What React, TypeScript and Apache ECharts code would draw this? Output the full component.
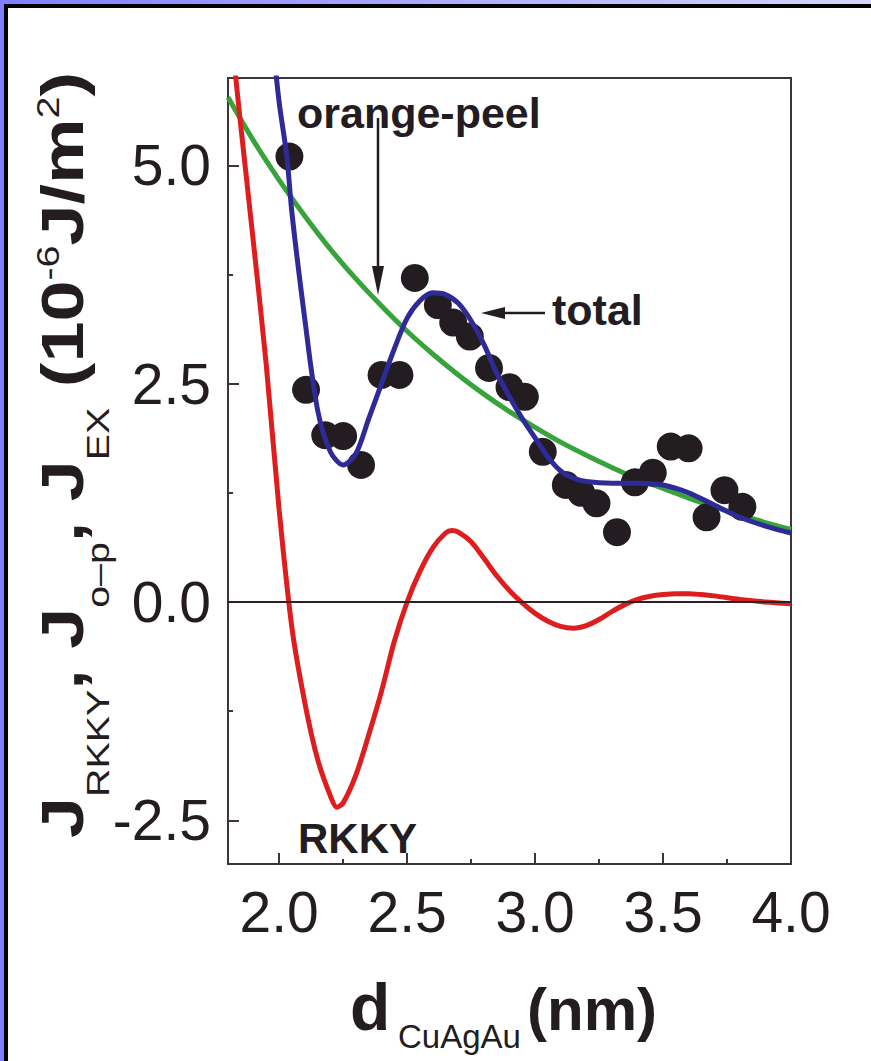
import React, { useEffect, useRef } from "react";
import * as echarts from "echarts";

// ---------- data ----------
const xMajorTicks = [2.0, 2.5, 3.0, 3.5, 4.0];
const xMinorTicks = [2.25, 2.75, 3.25, 3.75];
const yMajorTicks = [-2.5, 0.0, 2.5, 5.0];
const yMinorTicks = [-1.25, 1.25, 3.75];

// measured exchange coupling (black dots)
const dotX = [2.04, 2.105, 2.18, 2.25, 2.32, 2.4, 2.47, 2.53, 2.62, 2.68, 2.745, 2.82, 2.9, 2.96, 3.03, 3.12, 3.18, 3.24, 3.32, 3.39, 3.46, 3.53, 3.6, 3.67, 3.74, 3.81];
const dotY = [5.1, 2.43, 1.91, 1.9, 1.57, 2.6, 2.6, 3.71, 3.4, 3.2, 3.04, 2.68, 2.46, 2.35, 1.72, 1.34, 1.25, 1.13, 0.8, 1.37, 1.48, 1.78, 1.76, 0.97, 1.28, 1.09];

// orange-peel coupling (green)
const orangePeelX = [1.8, 1.9, 2.0, 2.1, 2.2, 2.3, 2.4, 2.5, 2.6, 2.7, 2.8, 2.9, 3.0, 3.1, 3.2, 3.3, 3.4, 3.5, 3.6, 3.7, 3.8, 3.9, 4.0];
const orangePeelY = [5.78, 5.28, 4.83, 4.42, 4.04, 3.7, 3.39, 3.1, 2.84, 2.6, 2.38, 2.18, 2.0, 1.83, 1.68, 1.54, 1.41, 1.3, 1.19, 1.09, 1.0, 0.91, 0.83];

// total coupling (blue)
const totalX = [1.97, 2.0, 2.03, 2.05, 2.1, 2.15, 2.2, 2.25, 2.3, 2.35, 2.4, 2.45, 2.5, 2.55, 2.6, 2.65, 2.7, 2.75, 2.8, 2.85, 2.9, 2.95, 3.0, 3.05, 3.1, 3.15, 3.2, 3.3, 3.4, 3.5, 3.6, 3.7, 3.8, 3.9, 4.0];
const totalY = [6.55, 5.72, 5.1, 4.45, 3.24, 2.2, 1.72, 1.57, 1.7, 2.1, 2.5, 2.9, 3.25, 3.45, 3.54, 3.52, 3.42, 3.22, 2.95, 2.62, 2.35, 2.1, 1.88, 1.66, 1.5, 1.42, 1.38, 1.36, 1.36, 1.34, 1.25, 1.11, 0.97, 0.87, 0.79];

// RKKY coupling (red)
const rkkyX = [1.82, 1.85, 1.9, 1.95, 2.0, 2.05, 2.1, 2.15, 2.2, 2.225, 2.25, 2.3, 2.35, 2.4, 2.45, 2.5, 2.55, 2.6, 2.65, 2.675, 2.7, 2.75, 2.8, 2.85, 2.9, 2.95, 3.0, 3.05, 3.1, 3.15, 3.2, 3.25, 3.3, 3.35, 3.4, 3.45, 3.5, 3.55, 3.6, 3.65, 3.7, 3.8, 3.9, 4.0];
const rkkyY = [6.3, 5.45, 4.1, 2.7, 1.05, -0.3, -1.15, -1.8, -2.22, -2.35, -2.3, -1.98, -1.52, -1.02, -0.45, 0.0, 0.35, 0.62, 0.79, 0.82, 0.8, 0.69, 0.5, 0.3, 0.13, -0.01, -0.13, -0.22, -0.28, -0.3, -0.27, -0.2, -0.11, -0.03, 0.03, 0.065, 0.085, 0.095, 0.095, 0.085, 0.07, 0.03, 0.0, -0.02];

const zip = (xs: number[], ys: number[]) => xs.map((x, i) => [x, ys[i]]);

const INK = "#231c20";
const AXIS = "#3d3538";
const FONT = "'Liberation Sans', Arial, Helvetica, sans-serif";

function textWidth(text: string, font: string): number {
  const c = document.createElement("canvas").getContext("2d");
  if (!c) return text.length * 20;
  c.font = font;
  return c.measureText(text).width;
}

export default function App() {
  const ref = useRef<HTMLDivElement>(null);

  useEffect(() => {
    if (!ref.current) return;
    const chart = echarts.init(ref.current, undefined, { renderer: "svg" });

    // y-axis title pieces laid along reading direction
    const MAIN = `bold 60px ${FONT}`;
    const SUB = `normal 32px ${FONT}`;
    const pieces: { t: string; f: string; k: "m" | "sub" | "sup" }[] = [
      { t: "J", f: MAIN, k: "m" },
      { t: "RKKY", f: SUB, k: "sub" },
      { t: ", ", f: MAIN, k: "m" },
      { t: "J", f: MAIN, k: "m" },
      { t: "o\u2013p", f: SUB, k: "sub" },
      { t: ", ", f: MAIN, k: "m" },
      { t: "J", f: MAIN, k: "m" },
      { t: "EX", f: SUB, k: "sub" },
      { t: " (10", f: MAIN, k: "m" },
      { t: "-6", f: SUB, k: "sup" },
      { t: "J/m", f: MAIN, k: "m" },
      { t: "2", f: SUB, k: "sup" },
      { t: ")", f: MAIN, k: "m" },
    ];
    let acc = 0;
    const children: any[] = [];
    for (const p of pieces) {
      const ly = p.k === "m" ? 62 : p.k === "sub" ? 98 : 48;
      children.push({
        type: "text",
        x: acc,
        y: ly,
        style: { text: p.t, font: p.f, fill: INK, align: "left", verticalAlign: "middle" },
      });
      acc += textWidth(p.t, p.f);
    }
    const yTitleScale = 766 / acc;

    const option: any = {
      animation: false,
      backgroundColor: "#ffffff",
      grid: {
        left: 228,
        top: 78,
        width: 563,
        height: 786,
        show: true,
        borderColor: AXIS,
        borderWidth: 2,
        backgroundColor: "transparent",
      },
      xAxis: [
        {
          type: "value",
          min: 1.8,
          max: 4.0,
          position: "bottom",
          axisLine: { show: true, onZero: false, lineStyle: { color: AXIS, width: 2 } },
          axisTick: { show: true, inside: true, length: 11, customValues: xMajorTicks, lineStyle: { color: AXIS, width: 2 } },
          axisLabel: {
            show: true,
            customValues: xMajorTicks,
            formatter: (v: number) => v.toFixed(1),
            fontSize: 57,
            fontFamily: FONT,
            color: INK,
            margin: 19,
          },
          splitLine: { show: false },
        },
        {
          type: "value",
          min: 1.8,
          max: 4.0,
          position: "bottom",
          axisLine: { show: false, onZero: false },
          axisTick: { show: true, inside: true, length: 5, customValues: xMinorTicks, lineStyle: { color: AXIS, width: 2 } },
          axisLabel: { show: false },
          splitLine: { show: false },
        },
      ],
      yAxis: [
        {
          type: "value",
          min: -3,
          max: 6,
          position: "left",
          axisLine: { show: true, onZero: false, lineStyle: { color: AXIS, width: 2 } },
          axisTick: { show: true, inside: true, length: 11, customValues: yMajorTicks, lineStyle: { color: AXIS, width: 2 } },
          axisLabel: {
            show: true,
            customValues: yMajorTicks,
            formatter: (v: number) => v.toFixed(1),
            fontSize: 57,
            fontFamily: FONT,
            color: INK,
            margin: 17,
          },
          splitLine: { show: false },
        },
        {
          type: "value",
          min: -3,
          max: 6,
          position: "left",
          axisLine: { show: false, onZero: false },
          axisTick: { show: true, inside: true, length: 5, customValues: yMinorTicks, lineStyle: { color: AXIS, width: 2 } },
          axisLabel: { show: false },
          splitLine: { show: false },
        },
      ],
      series: [
        {
          name: "orange-peel",
          type: "line",
          data: zip(orangePeelX, orangePeelY),
          smooth: 0.3,
          showSymbol: false,
          lineStyle: { color: "#38a23b", width: 5 },
          z: 2,
        },
        {
          name: "data",
          type: "scatter",
          data: zip(dotX, dotY),
          symbolSize: 28,
          itemStyle: { color: INK, opacity: 1 },
          z: 3,
        },
        {
          name: "total",
          type: "line",
          data: zip(totalX, totalY),
          smooth: 0.3,
          showSymbol: false,
          lineStyle: { color: "#2e2b99", width: 5 },
          z: 4,
        },
        {
          name: "RKKY",
          type: "line",
          data: zip(rkkyX, rkkyY),
          smooth: 0.3,
          showSymbol: false,
          lineStyle: { color: "#de1e1e", width: 5 },
          z: 4,
          markLine: {
            silent: true,
            symbol: ["none", "none"],
            label: { show: false },
            lineStyle: { color: "#2a2226", width: 1.8, type: "solid" },
            data: [{ yAxis: 0 }],
          },
        },
      ],
      graphic: [
        // window frame
        {
          type: "rect",
          shape: { x: 0, y: 0, width: 871, height: 4 },
          style: {
            fill: new echarts.graphic.LinearGradient(0, 0, 1, 0, [
              { offset: 0, color: "#7f7fff" },
              { offset: 1, color: "#d6d6ff" },
            ]),
          },
          silent: true,
        },
        { type: "rect", shape: { x: 0, y: 0, width: 4, height: 1061 }, style: { fill: "#7f7fff" }, silent: true },
        { type: "rect", shape: { x: 4, y: 4, width: 867, height: 4 }, style: { fill: "#000000" }, silent: true },
        { type: "rect", shape: { x: 4, y: 4, width: 4, height: 1057 }, style: { fill: "#000000" }, silent: true },
        // annotations
        {
          type: "text",
          x: 297,
          y: 113,
          style: { text: "orange-peel", font: `bold 43px ${FONT}`, fill: INK, align: "left", verticalAlign: "middle" },
          z: 10,
        },
        { type: "line", shape: { x1: 378, y1: 118, x2: 378, y2: 275 }, style: { stroke: INK, lineWidth: 2.5 }, z: 10 },
        { type: "polygon", shape: { points: [[372, 266], [384, 266], [378, 295]] }, style: { fill: INK }, z: 10 },
        {
          type: "text",
          x: 552,
          y: 310,
          style: { text: "total", font: `bold 43px ${FONT}`, fill: INK, align: "left", verticalAlign: "middle" },
          z: 10,
        },
        { type: "line", shape: { x1: 500, y1: 313, x2: 545, y2: 313 }, style: { stroke: INK, lineWidth: 2.5 }, z: 10 },
        { type: "polygon", shape: { points: [[481, 313], [505, 307], [505, 319]] }, style: { fill: INK }, z: 10 },
        {
          type: "text",
          x: 298,
          y: 838,
          style: { text: "RKKY", font: `bold 42px ${FONT}`, fill: INK, align: "left", verticalAlign: "middle" },
          z: 10,
        },
        // x-axis title
        {
          type: "text",
          x: 350,
          y: 1007,
          style: { text: "d", font: `bold 66px ${FONT}`, fill: INK, align: "left", verticalAlign: "middle" },
        },
        {
          type: "text",
          x: 398,
          y: 1036,
          style: { text: "CuAgAu", font: `normal 33px ${FONT}`, fill: INK, align: "left", verticalAlign: "middle" },
        },
        {
          type: "text",
          x: 527,
          y: 1009,
          style: { text: "(nm)", font: `bold 60px ${FONT}`, fill: INK, align: "left", verticalAlign: "middle" },
        },
        // y-axis title (rotated)
        {
          type: "group",
          x: 0,
          y: 838,
          rotation: Math.PI / 2,
          scaleX: yTitleScale,
          children,
        },
      ],
    };

    chart.setOption(option);
    return () => chart.dispose();
  }, []);

  return (
    <div
      ref={ref}
      style={{ position: "absolute", left: 0, top: 0, width: 871, height: 1061, background: "#ffffff" }}
    />
  );
}
